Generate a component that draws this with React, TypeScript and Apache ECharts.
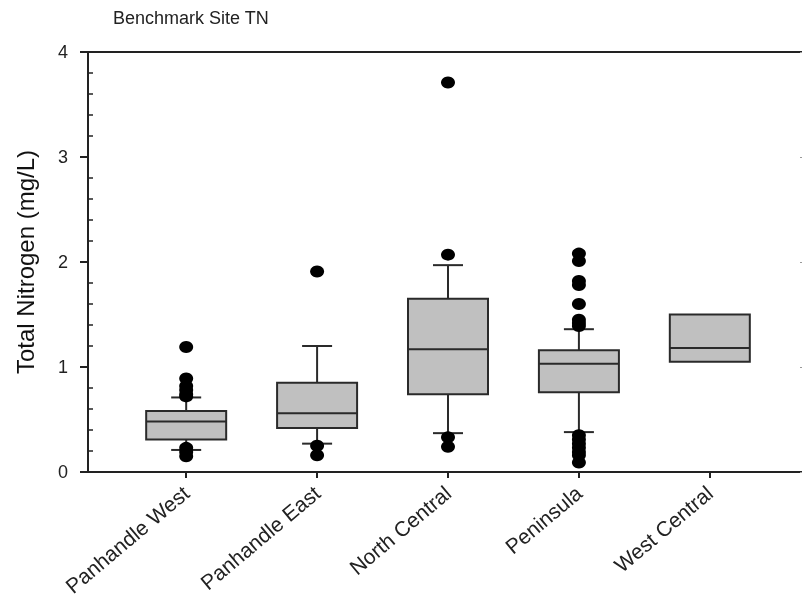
import React, { useEffect, useRef } from "react";
import * as echarts from "echarts";

const categories = ["Panhandle West", "Panhandle East", "North Central", "Peninsula", "West Central"];
const positions = [1, 2, 3, 4, 5];
const whiskerLow: (number | null)[] = [0.21, 0.27, 0.37, 0.38, null];
const q1 = [0.31, 0.42, 0.74, 0.76, 1.05];
const median = [0.48, 0.56, 1.17, 1.03, 1.18];
const q3 = [0.58, 0.85, 1.65, 1.16, 1.5];
const whiskerHigh: (number | null)[] = [0.71, 1.2, 1.97, 1.36, null];
const outliers: number[][] = [
  [1.19, 0.89, 0.82, 0.78, 0.74, 0.72, 0.23, 0.19, 0.15],
  [1.91, 0.25, 0.16],
  [3.71, 2.07, 0.33, 0.24],
  [2.08, 2.01, 1.82, 1.78, 1.6, 1.45, 1.42, 1.39, 0.35, 0.31, 0.27, 0.23, 0.19, 0.16, 0.09],
  [],
];
const yTicks = [0, 1, 2, 3, 4];

const FONT = "'Liberation Sans', Arial, sans-serif";

export default function App() {
  const ref = useRef<HTMLDivElement>(null);
  useEffect(() => {
    if (!ref.current) return;
    const chart = echarts.init(ref.current, undefined, { renderer: "svg" });
    const boxData = positions.map((p, i) => [p, whiskerLow[i], q1[i], median[i], q3[i], whiskerHigh[i]]);
    const outData: number[][] = [];
    outliers.forEach((arr, i) => arr.forEach((v) => outData.push([positions[i], v])));
    const BOX_W = 80;
    const CAP_W = 30;
    const stroke = "#2a2a2a";
    chart.setOption({
      animation: false,
      title: {
        text: "Benchmark Site TN",
        left: 108,
        top: 4,
        textStyle: { fontFamily: FONT, fontSize: 18, fontWeight: "normal", color: "#222" },
      },
      grid: {
        left: 88,
        right: -6,
        top: 52,
        bottom: 129,
        outerBoundsMode: "none",
        containLabel: false,
        show: true,
        borderColor: "#222",
        borderWidth: 2,
        backgroundColor: "transparent",
      },
      xAxis: {
        type: "value",
        min: 0.25,
        max: 5.75,
        splitLine: { show: false },
        axisLine: { show: true, onZero: false, lineStyle: { color: "#222", width: 2 } },
        axisTick: { show: true, customValues: positions, length: 6, lineStyle: { color: "#222", width: 2 } },
        axisLabel: {
          customValues: positions,
          formatter: (v: number) => categories[Math.round(v) - 1] ?? "",
          rotate: 40,
          fontFamily: FONT,
          fontSize: 21,
          color: "#222",
          margin: 18,
        },
      },
      yAxis: [
        {
          type: "value",
          min: 0,
          max: 4,
          interval: 1,
          name: "Total Nitrogen (mg/L)",
          nameLocation: "middle",
          nameGap: 51,
          nameTextStyle: { fontFamily: FONT, fontSize: 24, color: "#111" },
          splitLine: { show: false },
          axisLine: { show: true, lineStyle: { color: "#222", width: 2 } },
          axisTick: { show: true, length: 8, lineStyle: { color: "#222", width: 2 } },
          minorTick: { show: true, splitNumber: 5, length: -5, lineStyle: { color: "#222", width: 1.5 } },
          axisLabel: {
            customValues: yTicks,
            fontFamily: FONT,
            fontSize: 18,
            color: "#222",
            margin: 20,
          },
        },
        {
          type: "value",
          min: 0,
          max: 4,
          interval: 1,
          position: "right",
          splitLine: { show: false },
          axisLine: { show: true, lineStyle: { color: "#222", width: 2 } },
          axisTick: { show: true, inside: true, length: 8, lineStyle: { color: "#999", width: 1 } },
          axisLabel: { show: false },
        },
      ],
      series: [
        {
          type: "custom",
          coordinateSystem: "cartesian2d",
          encode: { x: 0, y: [1, 2, 3, 4, 5] },
          data: boxData,
          z: 2,
          renderItem: (params: any, api: any) => {
            const x = api.value(0);
            const lo = api.value(1);
            const a = api.value(2);
            const m = api.value(3);
            const b = api.value(4);
            const hi = api.value(5);
            const pA = api.coord([x, a]);
            const pM = api.coord([x, m]);
            const pB = api.coord([x, b]);
            const cx = pA[0];
            const children: any[] = [];
            const ls = { stroke, lineWidth: 2 };
            if (lo != null && !isNaN(lo)) {
              const pL = api.coord([x, lo]);
              children.push({ type: "line", shape: { x1: cx, y1: pA[1], x2: cx, y2: pL[1] }, style: ls });
              children.push({ type: "line", shape: { x1: cx - CAP_W / 2, y1: pL[1], x2: cx + CAP_W / 2, y2: pL[1] }, style: ls });
            }
            if (hi != null && !isNaN(hi)) {
              const pH = api.coord([x, hi]);
              children.push({ type: "line", shape: { x1: cx, y1: pB[1], x2: cx, y2: pH[1] }, style: ls });
              children.push({ type: "line", shape: { x1: cx - CAP_W / 2, y1: pH[1], x2: cx + CAP_W / 2, y2: pH[1] }, style: ls });
            }
            children.push({
              type: "rect",
              shape: { x: cx - BOX_W / 2, y: pB[1], width: BOX_W, height: pA[1] - pB[1] },
              style: { fill: "#c0c0c0", stroke, lineWidth: 2 },
            });
            children.push({ type: "line", shape: { x1: cx - BOX_W / 2, y1: pM[1], x2: cx + BOX_W / 2, y2: pM[1] }, style: ls });
            return { type: "group", children };
          },
        },
        {
          type: "scatter",
          data: outData,
          symbol: "circle",
          symbolSize: [14, 12],
          itemStyle: { color: "#000", opacity: 1 },
          z: 3,
        },
      ],
    });
    return () => chart.dispose();
  }, []);
  return <div ref={ref} style={{ position: "fixed", left: 0, top: 0, width: 802, height: 601 }} />;
}
